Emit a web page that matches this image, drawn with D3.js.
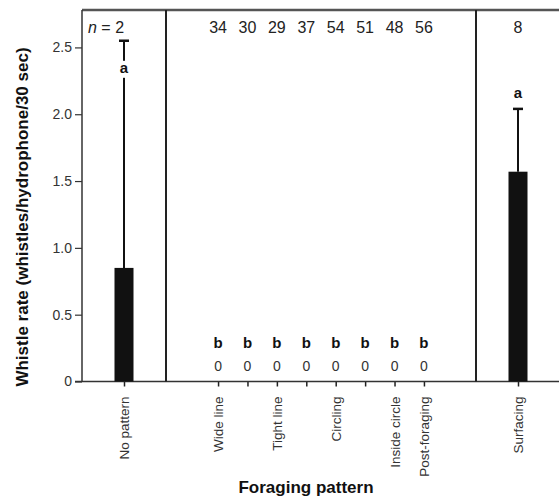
<!DOCTYPE html>
<html lang="en">
<head>
<meta charset="UTF-8">
<title>Whistle rate by foraging pattern</title>
<script src="https://d3js.org/d3.v7.min.js"></script>
<style>
body{margin:0;background:#fff}
svg{display:block;font-family:"Liberation Sans",Arial,sans-serif}
.tick text{fill:#333}
</style>
</head>
<body>
<svg id="chart" width="559" height="500"></svg>
<script>
// ── Data ──
var categories = ['np', 'c1', 'c2', 'c3', 'c4', 'c5', 'c6', 'c7', 'c8', 'sf'];
var tickLabels = ['No pattern', 'Wide line', '', 'Tight line', '', 'Circling', '', 'Inside circle', 'Post-foraging', 'Surfacing'];
var panels = [['np'], ['c1', 'c2', 'c3', 'c4', 'c5', 'c6', 'c7', 'c8'], ['sf']];
var means = [0.85, 0, 0, 0, 0, 0, 0, 0, 0, 1.57];
var errTop = [2.55, null, null, null, null, null, null, null, null, 2.04];
var sampleN = ['n = 2', '34', '30', '29', '37', '54', '51', '48', '56', '8'];
var letters = ['a', 'b', 'b', 'b', 'b', 'b', 'b', 'b', 'b', 'a'];
var letterLevel = [2.31, 0.25, 0.25, 0.25, 0.25, 0.25, 0.25, 0.25, 0.25, 2.12];
var yTicks = [0, 0.5, 1.0, 1.5, 2.0, 2.5];

var svg = d3.select('#chart');
var mLeft = 82, mTop = 10, mRight = 560, mBottom = 381.5;
var panelEdges = [mLeft, 166, 476, mRight];
var panelPad = [0.5, 1.77, 0.5];

var y = d3.scaleLinear().domain([0, 2.78]).range([mBottom, mTop]);

// one point scale per panel, then a lookup for every category
var xPos = {};
panels.forEach(function(cats, i) {
  var s = d3.scalePoint().domain(cats).range([panelEdges[i], panelEdges[i + 1]]).padding(panelPad[i]);
  cats.forEach(function(c) { xPos[c] = s(c); });
});
var x = d3.scaleOrdinal().domain(categories).range(categories.map(function(c) { return xPos[c]; }));

var rows = categories.map(function(c, i) {
  return { key: c, label: tickLabels[i], mean: means[i], err: errTop[i], n: sampleN[i], letter: letters[i], lv: letterLevel[i] };
});

// ── Y axis ──
var yAxis = svg.append('g').attr('transform', 'translate(' + mLeft + ',0)')
  .call(d3.axisLeft(y).tickValues(yTicks).tickSize(7).tickPadding(3)
    .tickFormat(function(d) { return d === 0 ? '0' : d3.format('.1f')(d); }));
yAxis.select('.domain').remove();
yAxis.selectAll('.tick line').attr('stroke', '#333').attr('stroke-width', 1.2);
yAxis.selectAll('.tick text').style('font-size', '14px');

// ── X axis ──
var xAxis = svg.append('g').attr('transform', 'translate(0,' + mBottom + ')')
  .call(d3.axisBottom(x).tickSize(5).tickFormat(function(d, i) { return tickLabels[i]; }));
xAxis.select('.domain').remove();
xAxis.selectAll('.tick line').attr('stroke', '#222').attr('stroke-width', 1.5);
xAxis.selectAll('.tick text')
  .style('font-size', '13.5px')
  .attr('transform', 'rotate(-90)')
  .attr('text-anchor', 'end')
  .attr('x', -15).attr('y', 0).attr('dy', '0.35em');

// ── Frame and panel dividers ──
svg.append('line').attr('x1', 75).attr('x2', mRight).attr('y1', mBottom).attr('y2', mBottom)
  .attr('stroke', '#333').attr('stroke-width', 1.5);
svg.append('line').attr('x1', mLeft).attr('x2', mRight).attr('y1', mTop).attr('y2', mTop)
  .attr('stroke', '#555').attr('stroke-width', 2.5);
svg.append('line').attr('x1', mLeft).attr('x2', mLeft).attr('y1', mTop).attr('y2', mBottom)
  .attr('stroke', '#333').attr('stroke-width', 1.5);
svg.selectAll('.divider').data(panelEdges.slice(1, 3)).join('line')
  .attr('class', 'divider')
  .attr('x1', function(d) { return d; }).attr('x2', function(d) { return d; })
  .attr('y1', mTop).attr('y2', mBottom)
  .attr('stroke', '#222').attr('stroke-width', 2);

// ── Error bars ──
var withErr = rows.filter(function(d) { return d.err != null; });
svg.selectAll('.err').data(withErr).join('line')
  .attr('class', 'err')
  .attr('x1', function(d) { return x(d.key); }).attr('x2', function(d) { return x(d.key); })
  .attr('y1', function(d) { return y(d.mean); }).attr('y2', function(d) { return y(d.err); })
  .attr('stroke', '#111').attr('stroke-width', 2);
svg.selectAll('.cap').data(withErr).join('line')
  .attr('class', 'cap')
  .attr('x1', function(d) { return x(d.key) - 5; }).attr('x2', function(d) { return x(d.key) + 5; })
  .attr('y1', function(d) { return y(d.err); }).attr('y2', function(d) { return y(d.err); })
  .attr('stroke', '#111').attr('stroke-width', 2.5);

// ── Bars ──
var barW = 19;
svg.selectAll('.bar').data(rows.filter(function(d) { return d.mean > 0; })).join('rect')
  .attr('class', 'bar')
  .attr('x', function(d) { return x(d.key) - barW / 2; })
  .attr('width', barW)
  .attr('y', function(d) { return y(d.mean); })
  .attr('height', function(d) { return y(0) - y(d.mean); })
  .attr('fill', '#111');

// ── Zero value labels ──
svg.selectAll('.zero').data(rows.filter(function(d) { return d.mean === 0; })).join('text')
  .attr('class', 'zero')
  .attr('x', function(d) { return x(d.key); })
  .attr('y', function(d) { return y(d.mean) - 10.5; })
  .attr('text-anchor', 'middle')
  .style('font-size', '14px').attr('fill', '#333')
  .text('0');

// ── Significance letters (white backing so they sit on the whisker) ──
var lg = svg.selectAll('.letter').data(rows).join('g').attr('class', 'letter')
  .attr('transform', function(d) { return 'translate(' + x(d.key) + ',' + y(d.lv) + ')'; });
lg.append('rect').attr('x', -5.5).attr('y', -12).attr('width', 11).attr('height', 17)
  .attr('fill', function(d) { return d.err != null && d.err > d.lv ? '#fff' : 'none'; });
lg.append('text').attr('text-anchor', 'middle')
  .style('font-size', '15px').style('font-weight', 'bold').attr('fill', '#111')
  .text(function(d) { return d.letter; });

// ── Sample sizes ──
var nt = svg.selectAll('.nlab').data(rows).join('text')
  .attr('class', 'nlab')
  .attr('x', function(d, i) { return i === 0 ? mLeft + 6 : x(d.key); })
  .attr('y', 33)
  .attr('text-anchor', function(d, i) { return i === 0 ? 'start' : 'middle'; })
  .style('font-size', '16px').attr('fill', '#222');
nt.each(function(d) {
  var t = d3.select(this);
  if (d.n.indexOf('n =') === 0) {
    t.append('tspan').style('font-style', 'italic').text('n');
    t.append('tspan').text(d.n.slice(1));
  } else {
    t.text(d.n);
  }
});

// ── Axis titles ──
svg.append('text')
  .attr('transform', 'translate(28,217) rotate(-90)')
  .attr('text-anchor', 'middle')
  .style('font-size', '17px').style('font-weight', 'bold').attr('fill', '#111')
  .text('Whistle rate (whistles/hydrophone/30 sec)');
svg.append('text')
  .attr('x', 306).attr('y', 493)
  .attr('text-anchor', 'middle')
  .style('font-size', '17px').style('font-weight', 'bold').attr('fill', '#111')
  .text('Foraging pattern');
</script>
</body>
</html>
